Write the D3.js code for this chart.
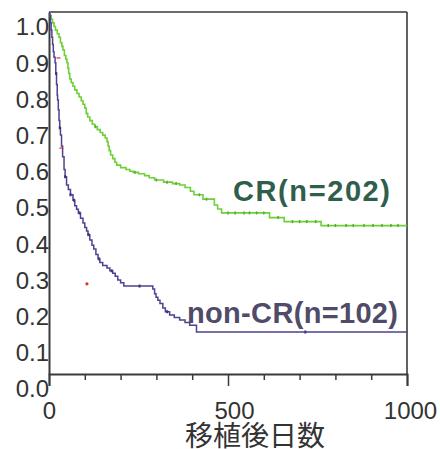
<!DOCTYPE html>
<html><head><meta charset="utf-8">
<script src="https://cdn.jsdelivr.net/npm/d3@7"></script>
<style>
html,body{margin:0;padding:0;background:#fff;}
svg{display:block;}
</style></head>
<body><svg id="chart" width="440" height="449"></svg>
<script>
// ---- data ----
const crDays = [0,3,6,10,14,18,23,28,32,36,39,43,47,50,53,55,58,62,67,72,78,84,90,95,100,104,108,114,121,128,135,143,150,157,162,165,168,172,178,184,189,200,215,226,235,250,267,280,295,320,345,365,380,395,405,430,462,471,482,616,657,760,1000];
const crSurv = [1.0,0.99,0.98,0.97,0.96,0.95,0.94,0.93,0.915,0.905,0.895,0.88,0.87,0.86,0.845,0.83,0.815,0.805,0.795,0.785,0.775,0.765,0.755,0.745,0.735,0.72,0.71,0.70,0.69,0.683,0.675,0.667,0.66,0.652,0.642,0.63,0.617,0.605,0.595,0.585,0.577,0.57,0.565,0.56,0.557,0.553,0.548,0.542,0.536,0.53,0.526,0.522,0.515,0.505,0.495,0.483,0.467,0.456,0.445,0.432,0.421,0.41,0.41];
const nonDays = [0,2,4,6,8,10,12,14,17,19,21,23,24,26,28,30,32,35,38,42,45,49,54,60,67,72,77,82,88,95,100,105,109,114,120,125,131,137,142,150,162,170,178,185,192,200,209,290,295,299,304,310,318,325,337,350,365,380,393,412,1000];
const nonSurv = [1.0,0.99,0.97,0.95,0.93,0.91,0.89,0.875,0.86,0.83,0.80,0.77,0.757,0.73,0.70,0.68,0.66,0.63,0.60,0.565,0.545,0.522,0.51,0.495,0.48,0.465,0.455,0.445,0.43,0.417,0.405,0.395,0.385,0.37,0.356,0.345,0.33,0.318,0.308,0.30,0.293,0.285,0.278,0.27,0.26,0.252,0.243,0.235,0.222,0.212,0.204,0.195,0.182,0.172,0.163,0.156,0.149,0.142,0.135,0.116,0.116];
const crCensor = [130,240,300,330,355,420,440,500,520,545,560,580,600,640,680,700,720,745,780,800,830,850,880,905,930,955,975];
const nonCensor = [20,30,45,60,70,85,110,140,175,253,330,716];
const redDays = [106];
const redSurv = [0.249];
const redDashDays = [25,33];
const redDashSurv = [0.873,0.624];
const yTicks = [0,0.1,0.2,0.3,0.4,0.5,0.6,0.7,0.8,0.9,1.0];
const yTickLabels = ["0.0","0.1","0.2","0.3","0.4","0.5","0.6","0.7","0.8","0.9","1.0"];
const xMajor = [0,500,1000];
const xMinor = [100,200,300,400,600,700,800,900];
const seriesLabels = ["CR(n=202)","non-CR(n=102)"];
const xTitle = "移植後日数";

// ---- layout ----
const svg = d3.select("#chart");
const x = d3.scaleLinear().domain([0,1000]).range([49,407]);
const y = d3.scaleLinear().domain([0,1]).range([374,12]);
const axisCol = "#3a3a3a";
const crCol = "#6fcf3a";
const nonCol = "#4e4390";

svg.append("rect").attr("width",440).attr("height",449).attr("fill","#fff");

// frame top & right
svg.append("line").attr("x1",x(0)).attr("x2",x(1000)).attr("y1",y(1)).attr("y2",y(1))
  .attr("stroke",axisCol).attr("stroke-width",1.6);
svg.append("line").attr("x1",x(1000)).attr("x2",x(1000)).attr("y1",y(1)).attr("y2",y(0))
  .attr("stroke",axisCol).attr("stroke-width",1.6);

// x axes
const gMinor = svg.append("g").attr("transform",`translate(0,${y(0)})`)
  .call(d3.axisBottom(x).tickValues(xMinor).tickSize(6).tickFormat(""));
const gMajor = svg.append("g").attr("transform",`translate(0,${y(0)})`)
  .call(d3.axisBottom(x).tickValues(xMajor).tickSize(12).tickPadding(16).tickFormat(d3.format("d")));
[gMinor,gMajor].forEach(g=>{
  g.selectAll("path").attr("stroke",axisCol).attr("stroke-width",2);
  g.selectAll("line").attr("stroke",axisCol).attr("stroke-width",1.5);
});
gMinor.select("path").remove();
gMajor.selectAll("text").attr("font-family","'Liberation Sans',Arial,sans-serif")
  .attr("font-size",24).attr("fill","#333").attr("dy","0.72em")
  .attr("dx",d=>d===500?6:(d===1000?3:0));

// y axis
const gY = svg.append("g").attr("transform",`translate(${x(0)},0)`)
  .call(d3.axisLeft(y).tickValues(yTicks).tickSize(0).tickPadding(0)
    .tickFormat((d,i)=>yTickLabels[i]));
gY.select("path").attr("stroke",axisCol).attr("stroke-width",2);
gY.selectAll("text").attr("font-family","'Liberation Sans',Arial,sans-serif")
  .attr("font-size",24).attr("fill","#333").attr("dy","0.35em")
  .attr("transform","translate(0,14.5)");

// step curves
const stepLine = d3.line().x(d=>x(d[0])).y(d=>y(d[1])).curve(d3.curveStepAfter);
const crPts = crDays.map((d,i)=>[d,crSurv[i]]);
const nonPts = nonDays.map((d,i)=>[d,nonSurv[i]]);
svg.append("path").attr("d",stepLine(crPts)).attr("fill","none")
  .attr("stroke",crCol).attr("stroke-width",1.6);
svg.append("path").attr("d",stepLine(nonPts)).attr("fill","none")
  .attr("stroke",nonCol).attr("stroke-width",1.5);

// censor marks
function survAt(days, surv, t){
  let s = surv[0];
  for(let i=0;i<days.length;i++){ if(days[i]<=t) s = surv[i]; else break; }
  return s;
}
svg.append("g").selectAll("line").data(crCensor).join("line")
  .attr("x1",d=>x(d)).attr("x2",d=>x(d))
  .attr("y1",d=>y(survAt(crDays,crSurv,d))-1.5).attr("y2",d=>y(survAt(crDays,crSurv,d))+1.5)
  .attr("stroke","#4fae2a").attr("stroke-width",1.5);
svg.append("g").selectAll("line").data(nonCensor).join("line")
  .attr("x1",d=>x(d)).attr("x2",d=>x(d))
  .attr("y1",d=>y(survAt(nonDays,nonSurv,d))-1.5).attr("y2",d=>y(survAt(nonDays,nonSurv,d))+1.5)
  .attr("stroke","#3d3380").attr("stroke-width",2);

// red marks
svg.append("g").selectAll("circle").data(redDays).join("circle")
  .attr("cx",d=>x(d)).attr("cy",(d,i)=>y(redSurv[i])).attr("r",1.6).attr("fill","#e03020");
svg.append("g").selectAll("line").data(redDashDays).join("line")
  .attr("x1",d=>x(d)-1.5).attr("x2",d=>x(d)+2.5)
  .attr("y1",(d,i)=>y(redDashSurv[i])).attr("y2",(d,i)=>y(redDashSurv[i]))
  .attr("stroke","#e03020").attr("stroke-width",1.2);

// series labels
svg.append("text").attr("x",233).attr("y",201).text(seriesLabels[0])
  .attr("font-family","'Liberation Sans',Arial,sans-serif").attr("font-weight","bold")
  .attr("font-size",29).attr("fill","#2f5e4c")
  .attr("textLength",157).attr("lengthAdjust","spacing");
svg.append("text").attr("x",187).attr("y",323).text(seriesLabels[1])
  .attr("font-family","'Liberation Sans',Arial,sans-serif").attr("font-weight","bold")
  .attr("font-size",29).attr("fill","#4f4b68")
  .attr("textLength",211).attr("lengthAdjust","spacing");

// x title
svg.append("text").attr("x",255).attr("y",446).attr("text-anchor","middle").text(xTitle)
  .attr("font-family","'Noto Sans CJK JP',sans-serif").attr("font-size",28).attr("fill","#333");
</script></body></html>
